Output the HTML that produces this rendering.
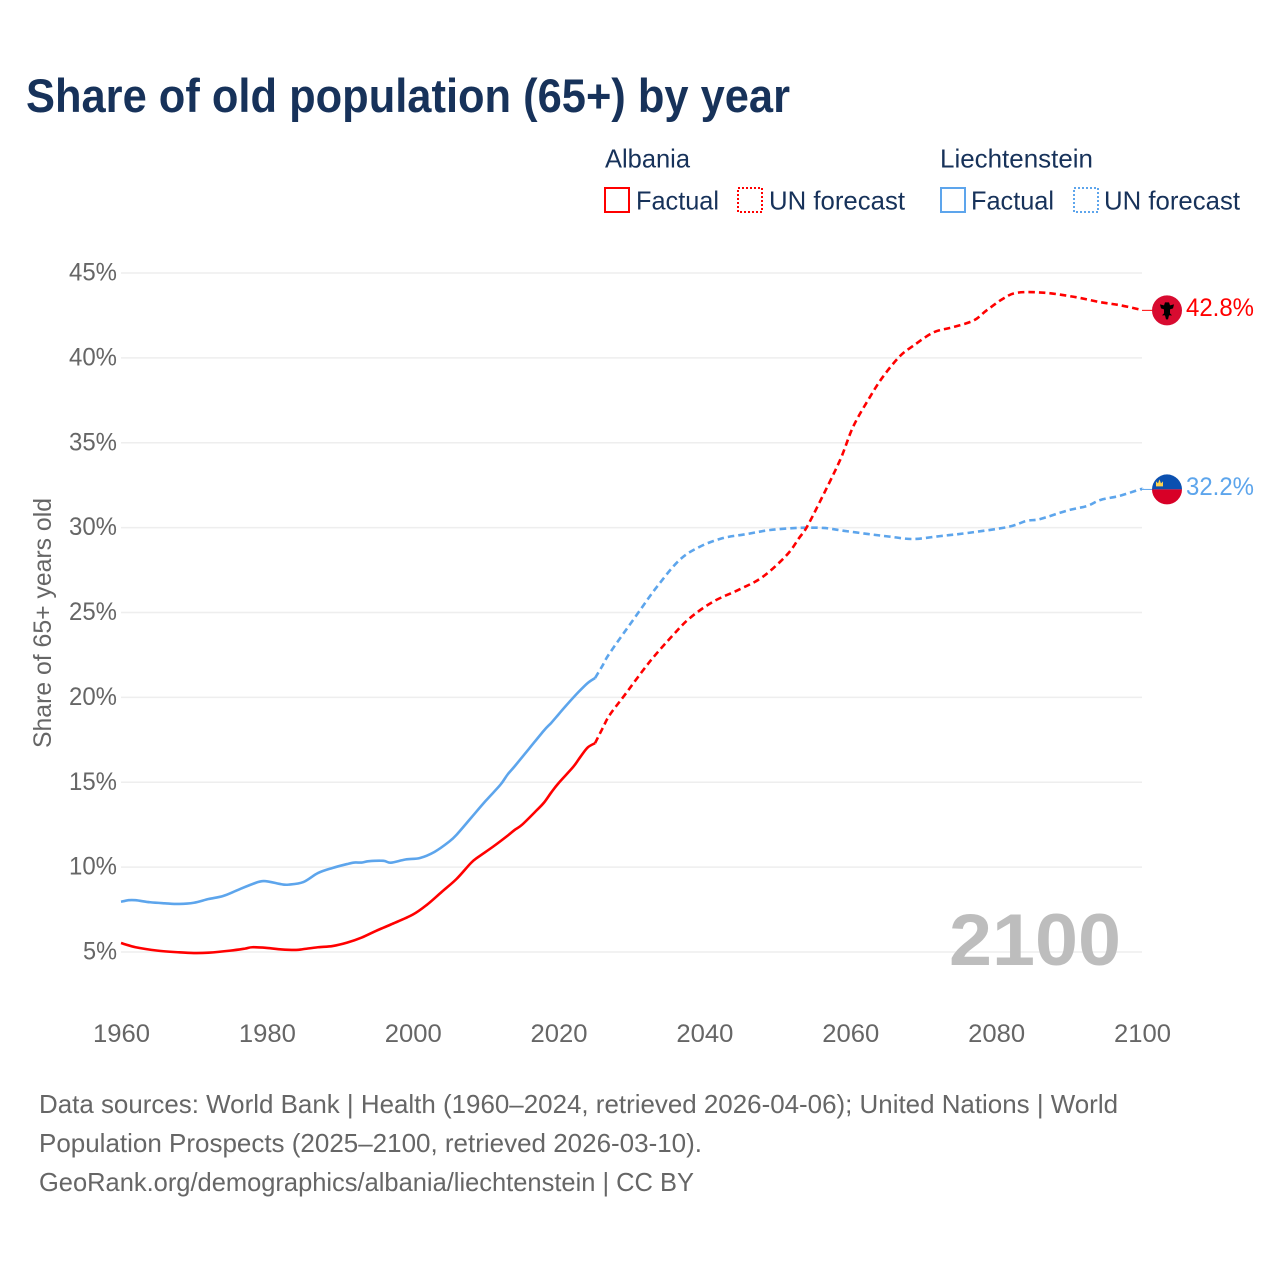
<!DOCTYPE html>
<html lang="en">
<head>
<meta charset="utf-8">
<title>Share of old population (65+) by year</title>
<style>
html,body{margin:0;padding:0;background:#fff;}
svg{display:block;font-family:"Liberation Sans",sans-serif;}
</style>
</head>
<body>
<svg id="chart" width="1280" height="1280" viewBox="0 0 1280 1280" xmlns="http://www.w3.org/2000/svg">
  <rect width="1280" height="1280" fill="#fff"/>
  <text x="26" y="112" font-size="47" font-weight="700" fill="#17325a" textLength="764" lengthAdjust="spacingAndGlyphs">Share of old population (65+) by year</text>

  <g font-size="26" fill="#17325a">
    <text x="605" y="167.5" textLength="85" lengthAdjust="spacingAndGlyphs">Albania</text>
    <rect x="605" y="188" width="24" height="24" fill="none" stroke="#ff0000" stroke-width="2"/>
    <text x="636" y="209.5" textLength="83" lengthAdjust="spacingAndGlyphs">Factual</text>
    <rect x="738" y="188" width="24" height="24" fill="none" stroke="#ff0000" stroke-width="2" stroke-dasharray="2 2"/>
    <text x="769" y="209.5" textLength="136" lengthAdjust="spacingAndGlyphs">UN forecast</text>
    <text x="940" y="167.5" textLength="153" lengthAdjust="spacingAndGlyphs">Liechtenstein</text>
    <rect x="941" y="188" width="24" height="24" fill="none" stroke="#5da5ec" stroke-width="2"/>
    <text x="971" y="209.5" textLength="83" lengthAdjust="spacingAndGlyphs">Factual</text>
    <rect x="1074" y="188" width="24" height="24" fill="none" stroke="#5da5ec" stroke-width="2" stroke-dasharray="2 2"/>
    <text x="1104" y="209.5" textLength="136" lengthAdjust="spacingAndGlyphs">UN forecast</text>
  </g>

  <g id="grid"></g>
  <g id="yticks" font-size="25" fill="#666"></g>
  <g id="xticks" font-size="25" fill="#666"></g>
  <text transform="translate(51 748) rotate(-90)" font-size="25" fill="#666" textLength="250" lengthAdjust="spacingAndGlyphs">Share of 65+ years old</text>
  <text x="949" y="965" font-size="73" font-weight="700" fill="#bdbdbd" textLength="172" lengthAdjust="spacingAndGlyphs">2100</text>
  <g id="series"></g>
  <g id="ends" font-size="25"></g>

  <g font-size="26" fill="#666">
    <text x="39" y="1113" textLength="1079" lengthAdjust="spacingAndGlyphs">Data sources: World Bank | Health (1960–2024, retrieved 2026-04-06); United Nations | World</text>
    <text x="39" y="1152" textLength="663" lengthAdjust="spacingAndGlyphs">Population Prospects (2025–2100, retrieved 2026-03-10).</text>
    <text x="39" y="1191" textLength="655" lengthAdjust="spacingAndGlyphs">GeoRank.org/demographics/albania/liechtenstein | CC BY</text>
  </g>
</svg>
<script>
const yTickValues = [5, 10, 15, 20, 25, 30, 35, 40, 45];
const yTickLabels = ["5%", "10%", "15%", "20%", "25%", "30%", "35%", "40%", "45%"];
const xTickValues = [1960, 1980, 2000, 2020, 2040, 2060, 2080, 2100];
const xTickLabels = ["1960", "1980", "2000", "2020", "2040", "2060", "2080", "2100"];

const albaniaFactualYears = [1960,1962,1965,1968,1970,1972,1975,1977,1978,1980,1982,1984,1985,1987,1989,1991,1993,1995,1997,2000,2002,2004,2006,2008,2009,2011,2013,2014,2015,2017,2018,2019,2020,2022,2023,2024,2025];
const albaniaFactualValues = [5.53,5.28,5.08,4.98,4.94,4.96,5.08,5.2,5.28,5.24,5.15,5.12,5.17,5.28,5.35,5.55,5.85,6.25,6.62,7.2,7.8,8.55,9.3,10.25,10.6,11.2,11.85,12.2,12.5,13.35,13.8,14.4,14.95,15.9,16.5,17.05,17.3];
const albaniaForecastYears = [2025,2026,2027,2029,2032.5,2035.7,2038,2041.2,2044.9,2048,2051.3,2053,2054,2055.8,2058.6,2060.4,2062.7,2064.5,2066.8,2068.6,2071.4,2074,2076.9,2078.7,2081,2082.9,2086.5,2090.6,2094.3,2097,2100];
const albaniaForecastValues = [17.3,18.15,18.96,20.1,22.1,23.67,24.67,25.64,26.38,27.1,28.39,29.4,30.0,31.5,33.98,35.95,37.7,38.9,40.1,40.7,41.5,41.8,42.2,42.8,43.5,43.84,43.84,43.6,43.28,43.1,42.82];

const liechtensteinFactualYears = [1960,1961,1962,1964,1966,1968,1970,1972,1974,1976,1978,1979.6,1982,1983,1985,1987,1989,1991,1992,1993,1994,1996,1997,1999,2001,2003,2005,2006,2008,2010,2012,2013,2014,2016,2018,2019,2020,2021,2022.7,2024,2025];
const liechtensteinFactualValues = [7.96,8.05,8.05,7.93,7.87,7.83,7.9,8.12,8.3,8.65,9.0,9.18,8.99,8.97,9.12,9.65,9.95,10.18,10.27,10.27,10.35,10.37,10.26,10.45,10.54,10.9,11.5,11.9,12.9,13.9,14.84,15.45,15.95,17.0,18.05,18.5,19.0,19.5,20.3,20.85,21.14];
const liechtensteinForecastYears = [2025,2026,2027,2030.7,2033.5,2036.6,2039.4,2042.5,2045.8,2049,2052.7,2056.3,2059,2062.5,2065.4,2068.6,2072.3,2076,2081.5,2084.2,2086,2089.7,2092.5,2094.3,2097,2099.7,2100];
const liechtensteinForecastValues = [21.14,21.85,22.6,24.85,26.52,28.1,28.88,29.38,29.62,29.86,29.98,29.98,29.82,29.62,29.47,29.33,29.5,29.68,30.03,30.4,30.5,31.0,31.28,31.63,31.88,32.25,32.25];

const endLabels = ["42.8%", "32.2%"];
const endValues = [42.8, 32.25];

const NS = "http://www.w3.org/2000/svg";
function xScale(year) { return 121 + (year - 1960) * (1142 - 121) / 140; }
function yScale(value) { return 952 - (value - 5) * (952 - 273) / 40; }
function make(tag, attrs, parent, text) {
  const el = document.createElementNS(NS, tag);
  for (const k in attrs) el.setAttribute(k, attrs[k]);
  if (text !== undefined) el.textContent = text;
  parent.appendChild(el);
  return el;
}
function smoothPath(years, values) {
  const p = years.map((y, i) => [xScale(y), yScale(values[i])]);
  let d = "M" + p[0][0].toFixed(2) + " " + p[0][1].toFixed(2);
  for (let i = 0; i < p.length - 1; i++) {
    const a = p[Math.max(i - 1, 0)], b = p[i], c = p[i + 1], e = p[Math.min(i + 2, p.length - 1)];
    const c1x = b[0] + (c[0] - a[0]) / 6, c1y = b[1] + (c[1] - a[1]) / 6;
    const c2x = c[0] - (e[0] - b[0]) / 6, c2y = c[1] - (e[1] - b[1]) / 6;
    d += "C" + c1x.toFixed(2) + " " + c1y.toFixed(2) + " " + c2x.toFixed(2) + " " + c2y.toFixed(2) + " " + c[0].toFixed(2) + " " + c[1].toFixed(2);
  }
  return d;
}

const grid = document.getElementById("grid");
const yTicks = document.getElementById("yticks");
const xTicks = document.getElementById("xticks");
const seriesGroup = document.getElementById("series");
const ends = document.getElementById("ends");

yTickValues.forEach((v, i) => {
  const line = make("line", {x1: 121, x2: 1142, y1: yScale(v), y2: yScale(v), stroke: "#eeeeee", "stroke-width": 1.6}, grid);
  
  
  const label = make("text", {x: 117, y: yScale(v) + 7.5, "text-anchor": "end", textLength: yTickLabels[i].length === 2 ? 34 : 48, lengthAdjust: "spacingAndGlyphs"}, yTicks, yTickLabels[i]);
  
  
});
xTickValues.forEach((v, i) => {
  const label = make("text", {x: xScale(v) + 0.5, y: 1042, "text-anchor": "middle", textLength: 57, lengthAdjust: "spacingAndGlyphs"}, xTicks, xTickLabels[i]);
  
  
});

const RED = "#ff0000", BLUE = "#5da5ec";
function drawLine(years, values, color, dashed, name) {
  const path = make("path", {d: smoothPath(years, values), fill: "none", stroke: color, "stroke-width": 2.6, "stroke-linejoin": "round"}, seriesGroup);
  if (dashed) path.setAttribute("stroke-dasharray", "6.5 4");
  
  
}
drawLine(liechtensteinFactualYears, liechtensteinFactualValues, BLUE, false, "line-liechtenstein-factual");
drawLine(liechtensteinForecastYears, liechtensteinForecastValues, BLUE, true, "line-liechtenstein-forecast");
drawLine(albaniaFactualYears, albaniaFactualValues, RED, false, "line-albania-factual");
drawLine(albaniaForecastYears, albaniaForecastValues, RED, true, "line-albania-forecast");

const colors = [RED, BLUE];
endValues.forEach((v, i) => {
  const y = yScale(v);
  const leader = make("line", {x1: 1142, x2: 1154, y1: y, y2: y, stroke: colors[i], "stroke-width": 1}, ends);
  
  
  const label = make("text", {x: 1186, y: y + 5.5, fill: colors[i], textLength: 68, lengthAdjust: "spacingAndGlyphs"}, ends, endLabels[i]);
  
  
});

// Albania flag marker
const ya = yScale(endValues[0]);
const flagA = make("g", {transform: "translate(1167 " + ya + ")"}, ends);


make("circle", {cx: 0, cy: 0, r: 15, fill: "#d80b30"}, flagA);
make("polygon", {points: "-7,-6 -3,-5 -2,-8 2,-8 3,-5 7,-6 6,-2 3,-1 3,3 5,5 2,5 1,9 -1,9 -2,5 -5,5 -3,3 -3,-1 -6,-2", fill: "#000"}, flagA);

// Liechtenstein flag marker
const yl = yScale(endValues[1]);
const flagL = make("g", {transform: "translate(1167 " + yl + ")"}, ends);


make("path", {d: "M-15 0A15 15 0 0 1 15 0Z", fill: "#0b50b0"}, flagL);
make("path", {d: "M-15 0A15 15 0 0 0 15 0Z", fill: "#d80027"}, flagL);
make("polygon", {points: "-11,-3 -11,-8 -9,-6 -7.5,-10 -6,-6 -4,-8 -4,-3", fill: "#ffd34e"}, flagL);
</script>
</body>
</html>
